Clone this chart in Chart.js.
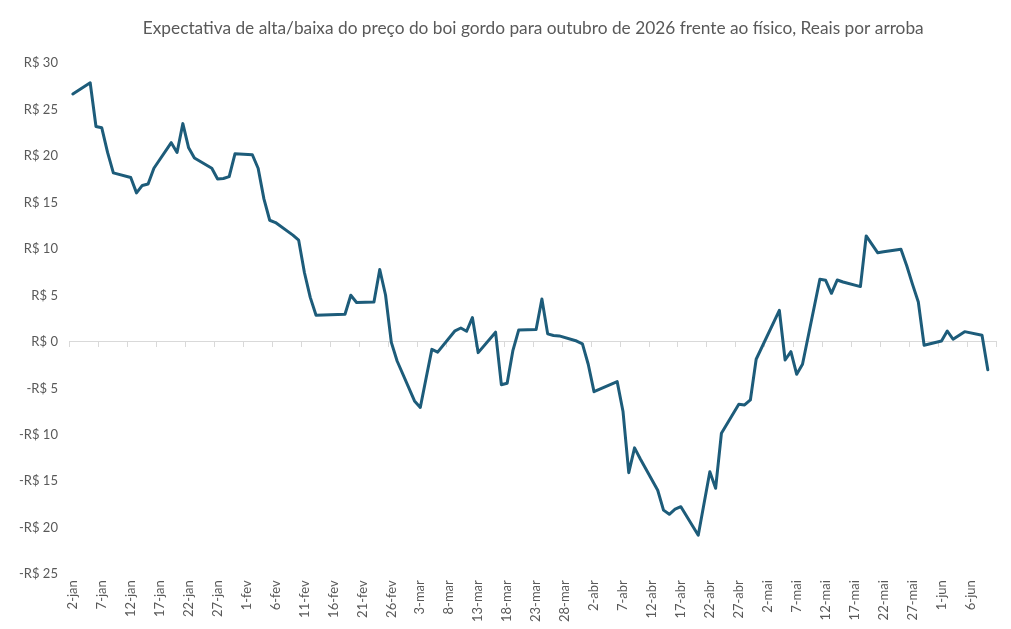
<!DOCTYPE html>
<html><head><meta charset="utf-8">
<script src="https://cdn.jsdelivr.net/npm/chart.js@4.4.1/dist/chart.umd.min.js"></script>
<style>html,body{margin:0;padding:0;background:#fff}</style>
</head><body>
<canvas id="c" width="1011" height="629"></canvas>
<script>
// Trading dates (2026) and values (R$/@)
const tradeDates = [
 '01-02','01-05','01-06','01-07','01-08','01-09',
 '01-12','01-13','01-14','01-15','01-16',
 '01-19','01-20','01-21','01-22','01-23',
 '01-26','01-27','01-28','01-29','01-30',
 '02-02','02-03','02-04','02-05','02-06',
 '02-09','02-10','02-11','02-12','02-13',
 '02-18','02-19','02-20',
 '02-23','02-24','02-25','02-26','02-27',
 '03-02','03-03','03-04','03-05','03-06',
 '03-09','03-10','03-11','03-12','03-13',
 '03-16','03-17','03-18','03-19','03-20',
 '03-23','03-24','03-25','03-26','03-27',
 '03-30','03-31','04-01','04-02',
 '04-06','04-07','04-08','04-09','04-10',
 '04-13','04-14','04-15','04-16','04-17',
 '04-20','04-22','04-23','04-24',
 '04-27','04-28','04-29','04-30',
 '05-04','05-05','05-06','05-07','05-08',
 '05-11','05-12','05-13','05-14','05-15',
 '05-18','05-19','05-20','05-21','05-22',
 '05-25','05-26','05-27','05-28','05-29',
 '06-01','06-02','06-03','06-05',
 '06-08','06-09'
];
const values = [
 26.7, 27.9, 23.2, 23.05, 20.4, 18.2,
 17.7, 16.05, 16.85, 17.0, 18.7,
 21.45, 20.4, 23.5, 20.9, 19.8,
 18.7, 17.55, 17.6, 17.8, 20.25,
 20.15, 18.7, 15.4, 13.1, 12.85,
 11.5, 10.95, 7.45, 4.8, 2.87,
 2.98, 5.03, 4.25,
 4.3, 7.8, 5.05, -0.05, -2.05,
 -6.35, -7.05, -3.9, -0.8, -1.1,
 1.2, 1.5, 1.15, 2.62, -1.15,
 1.05, -4.6, -4.45, -0.9, 1.3,
 1.35, 4.63, 0.87, 0.7, 0.65,
 0.1, -0.2, -2.4, -5.35,
 -4.27, -7.45, -14.07, -11.4, -12.6,
 -15.96, -18.1, -18.55, -18.0, -17.73,
 -20.8, -13.96, -15.75, -9.83,
 -6.7, -6.78, -6.24, -1.86,
 3.41, -1.94, -1.04, -3.48, -2.4,
 6.75, 6.64, 5.24, 6.67, 6.45,
 5.96, 11.41, 10.5, 9.6, 9.7,
 9.98, 8.2, 6.2, 4.3, -0.36,
 0.11, 1.18, 0.29, 1.11,
 0.72, -3.0
];
const year = 2026;
const axisStart = '01-02';
const axisEnd = '06-10';
const monthAbbr = ['jan','fev','mar','abr','mai','jun','jul','ago','set','out','nov','dez'];
const labelEvery = 5;
const yMin = -25, yMax = 30, yStep = 5;
const titleText = 'Expectativa de alta/baixa do preço do boi gordo para outubro de 2026 frente ao físico, Reais por arroba';

// Build calendar-day categories
const pad = n => String(n).padStart(2, '0');
const toDate = s => new Date(Date.UTC(year, +s.slice(0,2) - 1, +s.slice(3,5)));
const valueByDate = {};
tradeDates.forEach((d, i) => { valueByDate[d] = values[i]; });
const dayLabels = [], series = [];
for (let d = toDate(axisStart); d <= toDate(axisEnd); d = new Date(d.getTime() + 86400000)) {
  const key = pad(d.getUTCMonth() + 1) + '-' + pad(d.getUTCDate());
  dayLabels.push(d.getUTCDate() + '-' + monthAbbr[d.getUTCMonth()]);
  series.push(key in valueByDate ? valueByDate[key] : null);
}

const FONT = 'Lato, "Open Sans", sans-serif';
const GRAY = '#595959';
const AXIS = '#d9d9d9';

new Chart(document.getElementById('c'), {
  type: 'line',
  data: {
    labels: dayLabels,
    datasets: [{
      data: series,
      borderColor: '#1d5c7a',
      borderWidth: 3,
      pointRadius: 0,
      pointHoverRadius: 0,
      tension: 0,
      spanGaps: true,
      borderJoinStyle: 'round',
      borderCapStyle: 'round',
      xAxisID: 'x',
      yAxisID: 'y'
    }]
  },
  options: {
    responsive: false,
    devicePixelRatio: 1,
    animation: false,
    events: [],
    layout: { padding: { left: 7, right: 14.5, top: 0, bottom: 1 } },
    plugins: {
      legend: { display: false },
      tooltip: { enabled: false },
      title: {
        display: true,
        fullSize: false,
        text: titleText,
        color: GRAY,
        font: { family: FONT, size: 17.3, weight: 'normal' },
        padding: { top: 18.5, bottom: 24 }
      }
    },
    scales: {
      x: {
        type: 'category',
        position: 'bottom',
        offset: true,
        grid: { display: false, drawTicks: false },
        border: { display: false },
        afterFit: s => { s.paddingRight = 0; },
        ticks: {
          autoSkip: false,
          maxRotation: 90,
          minRotation: 90,
          padding: 6,
          color: GRAY,
          font: { family: FONT, size: 13 },
          callback: function (v, i) { return i % labelEvery === 0 ? this.getLabelForValue(v) : ''; }
        }
      },
      x2: {
        type: 'category',
        labels: dayLabels,
        position: { y: 0 },
        offset: true,
        grid: {
          offset: true,
          drawOnChartArea: false,
          drawTicks: true,
          tickLength: 5,
          color: ctx => (ctx.index === undefined || ctx.index % labelEvery === 0) ? AXIS : 'rgba(0,0,0,0)'
        },
        border: { display: true, color: AXIS, width: 1 },
        ticks: { display: false }
      },
      y: {
        type: 'linear',
        min: yMin,
        max: yMax,
        grid: { display: false, drawTicks: false },
        border: { display: false },
        ticks: {
          stepSize: yStep,
          padding: 12,
          color: GRAY,
          font: { family: FONT, size: 13 },
          callback: v => (v < 0 ? '-R$ ' + Math.abs(v) : 'R$ ' + v)
        }
      }
    }
  }
});
</script>
</body></html>
